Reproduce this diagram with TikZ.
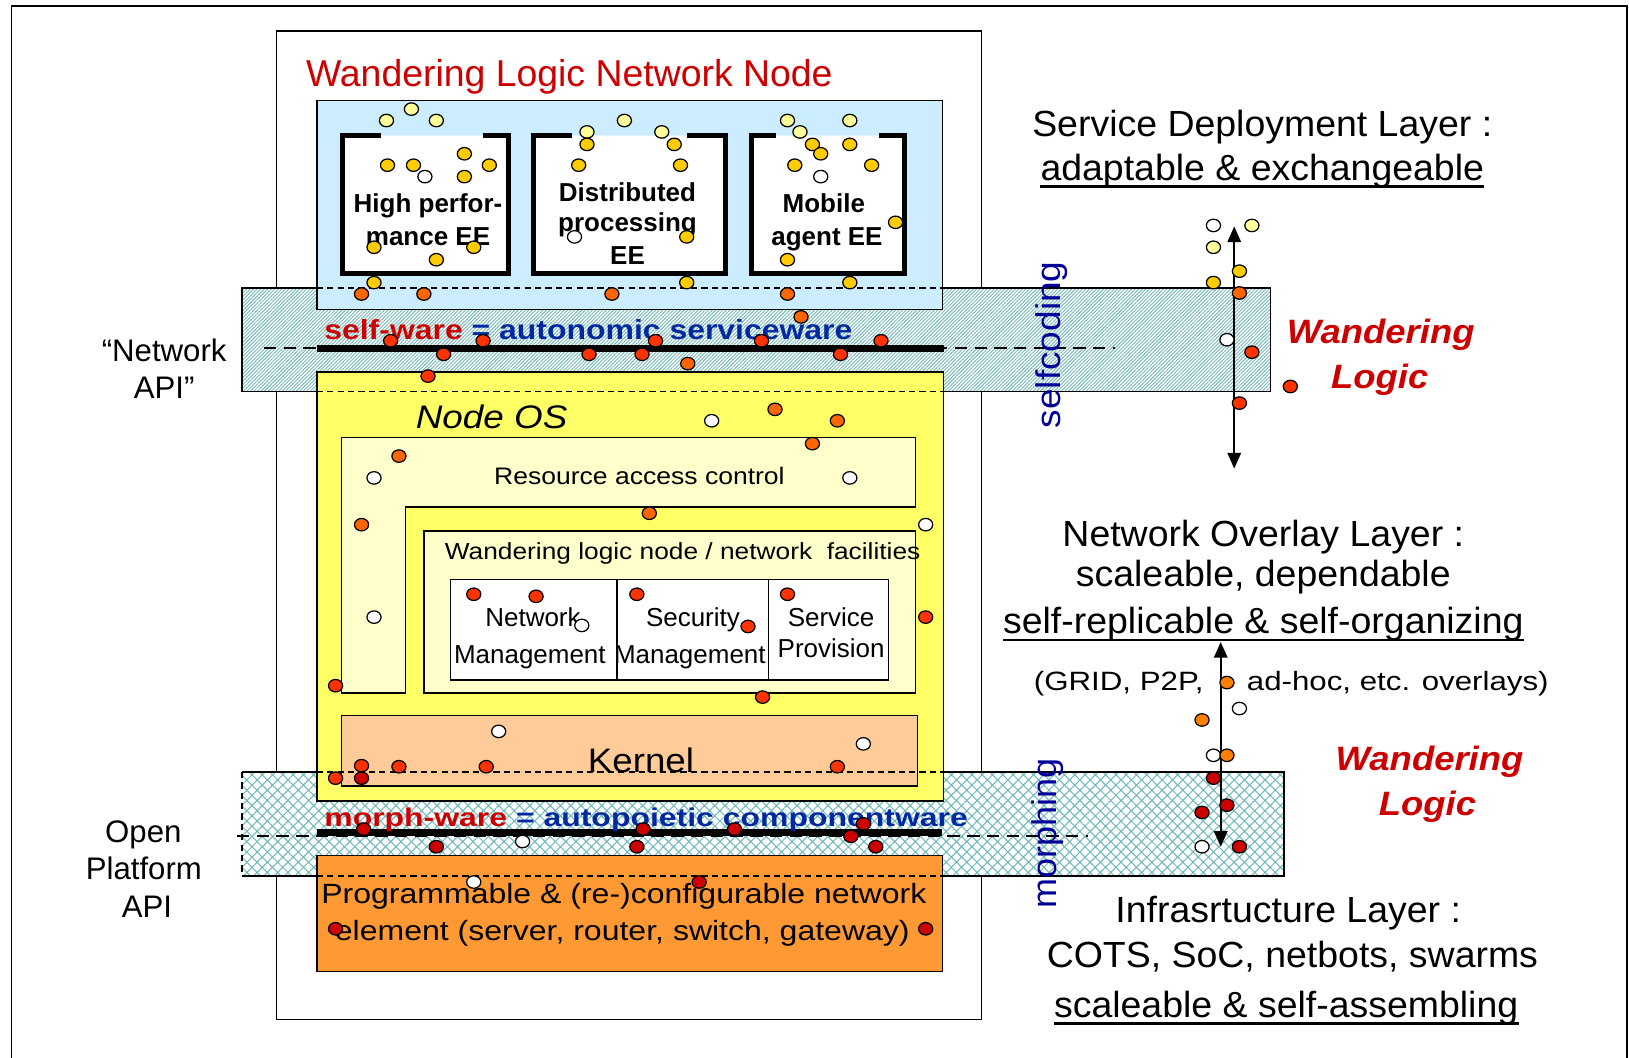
\documentclass[tikz,border=0pt]{standalone}
\usepackage{fontspec}
\usepackage{graphicx}
\setmainfont{Liberation Sans}
\usetikzlibrary{patterns.meta,arrows.meta}
\definecolor{wred}{RGB}{204,0,0}
\definecolor{wblue}{RGB}{0,40,160}
\definecolor{navy}{RGB}{0,0,153}
\definecolor{lblue}{RGB}{204,236,255}
\definecolor{yel}{RGB}{255,255,102}
\definecolor{lyel}{RGB}{255,255,204}
\definecolor{peach}{RGB}{255,204,153}
\definecolor{orng}{RGB}{255,153,51}
\definecolor{hatchc}{RGB}{120,185,185}
\definecolor{hatchd}{RGB}{110,185,185}
\definecolor{pyel}{RGB}{255,255,153}
\definecolor{gold}{RGB}{255,204,0}
\definecolor{dor}{RGB}{255,102,0}
\definecolor{dro}{RGB}{255,51,0}
\definecolor{ddr}{RGB}{204,0,0}
\definecolor{dorb}{RGB}{255,128,0}
\newcommand{\fz}[1]{\fontsize{#1}{#1}\selectfont}
\newcommand{\sx}[2]{\scalebox{#1}[1]{#2}}
\tikzset{
  tx/.style={inner sep=0pt, anchor=base},
  txl/.style={inner sep=0pt, anchor=base west},
  boxline/.style={line width=1.3pt},
  dsh/.style={line width=1.5pt, dash pattern=on 6pt off 4pt},
  ldsh/.style={line width=1.5pt, dash pattern=on 12pt off 7pt},
  cup/.style={line width=5pt, fill=white, line join=miter},
  bar/.style={line width=7pt},
  dblarrow/.style={line width=1.5pt, {Triangle[length=15pt,width=13pt]}-{Triangle[length=15pt,width=13pt]}},
  dotst/.style={line width=1.2pt, draw=black},
  uline/.style={line width=2.5pt}
}
\begin{document}
\begin{tikzpicture}[x=1pt,y=-1pt]
\useasboundingbox (0,0) rectangle (1568,1018);
% outer frame (open at the bottom)
\draw[line width=1.6pt] (11,1018) -- (11,6) -- (1566,6) -- (1566,1018);
% main node box
\draw[boxline, fill=white] (266,30) rectangle (945,981);
% self-ware band
\fill[white] (233,277) rectangle (1223,377);
\fill[pattern={Lines[angle=45,distance=2.4pt,line width=0.9pt]}, pattern color=hatchc] (233,277) rectangle (1223,377);
\draw[line width=1.5pt] (233,277) rectangle (1223,377);
% morph-ware band
\fill[white] (233,743) rectangle (1236,843);
\fill[pattern={Hatch[angle=45,distance=7pt,line width=1pt]}, pattern color=hatchd] (233,743) rectangle (1236,843);
\draw[line width=1.5pt] (233,743) -- (1236,743) -- (1236,843) -- (233,843);
\draw[dsh] (233,743) -- (233,843);
% blue EE box
\draw[boxline, fill=lblue] (305,97) rectangle (907,298);
\draw[dsh] (305,277) -- (907,277);
% cups
\draw[cup] (367,130.5) -- (329.5,130.5) -- (329.5,263.5) -- (489.5,263.5) -- (489.5,130.5) -- (465,130.5);
\draw[cup] (551,130.5) -- (513.5,130.5) -- (513.5,263.5) -- (698.5,263.5) -- (698.5,130.5) -- (661,130.5);
\draw[cup] (747,130.5) -- (723.5,130.5) -- (723.5,263.5) -- (870.5,263.5) -- (870.5,130.5) -- (846,130.5);
% Node OS box
\draw[boxline, fill=yel] (305,358) rectangle (908,771);
\draw[dsh] (305,377) -- (908,377);
\draw[boxline, fill=lyel] (329,421) -- (881,421) -- (881,488) -- (390,488) -- (390,667) -- (329,667) -- cycle;
\draw[boxline, fill=lyel] (408,511) rectangle (881,667);
\draw[boxline, fill=white] (433.5,557.5) rectangle (855,654.5);
\draw[boxline] (594,557.5) -- (594,654.5) (740,557.5) -- (740,654.5);
\draw[boxline, fill=peach] (329,689) rectangle (883,756.5);
\draw[dsh] (305,743) -- (908,743);
% platform box
\draw[boxline, fill=orng] (305,823.5) rectangle (907,935);
\draw[dsh] (305,843) -- (907,843);
% API lines
\draw[ldsh] (254,335) -- (1073,335);
\draw[bar] (305,335.5) -- (909,335.5);
\draw[ldsh] (228,804.7) -- (1047,804.7);
\draw[bar] (305,801.5) -- (907,801.5);

% texts
\node[tx, text=wred] (title) at (548,83) {\fz{36}Wandering Logic Network Node};
\node[tx] (hp1) at (412,205) {\fz{25}\bfseries High perfor-};
\node[tx] (hp2) at (412,236) {\fz{25}\bfseries mance EE};
\node[tx] (dp1) at (604,194) {\fz{25}\bfseries Distributed};
\node[tx] (dp2) at (604,223) {\fz{25}\bfseries processing};
\node[tx] (dp3) at (604,255) {\fz{25}\bfseries EE};
\node[tx] (ma1) at (793,205) {\fz{25}\bfseries Mobile};
\node[tx] (ma2) at (796,236) {\fz{25}\bfseries agent EE};
\node[txl] (selfware) at (312,327) {\fz{26.5}\bfseries\sx{1.16}{\textcolor{wred}{self-ware} \textcolor{wblue}{= autonomic serviceware}}};
\node[txl] (morphware) at (312,796) {\fz{24.6}\bfseries\sx{1.25}{\textcolor{wred}{morph-ware} \textcolor{wblue}{= autopoietic componentware}}};
\node[tx] (napi1) at (158,348) {\fz{30}“Network};
\node[tx] (napi2) at (158,384) {\fz{30}API”};
\node[tx] (opa1) at (138,811) {\fz{30}Open};
\node[tx] (opa2) at (138.5,847) {\fz{30}Platform};
\node[tx] (opa3) at (141.5,883) {\fz{30}API};
\node[txl] (nodeos) at (400,412) {\fz{31.4}\itshape\sx{1.13}{Node OS}};
\node[tx] (rac) at (615.5,466) {\fz{23}\sx{1.11}{Resource access control}};
\node[txl] (wlf) at (428,539) {\fz{22.4}\sx{1.13}{Wandering logic node / network\ \ facilities}};
\node[tx] (nm1) at (513,603) {\fz{25}Network};
\node[tx] (nm2) at (510,638.5) {\fz{25}Management};
\node[tx] (sm1) at (667,603) {\fz{25}Security};
\node[tx] (sm2) at (664,638.5) {\fz{25}Management};
\node[tx] (sp1) at (800,603) {\fz{25}Service};
\node[tx] (sp2) at (800,633) {\fz{25}Provision};
\node[tx] (kern) at (617,744) {\fz{32.7}\sx{1.08}{Kernel}};
\node[tx] (pr1) at (600.5,869.5) {\fz{26.8}\sx{1.15}{Programmable \& (re-)configurable network}};
\node[tx] (pr2) at (599,905) {\fz{26.8}\sx{1.15}{element (server, router, switch, gateway)}};
\node[inner sep=0pt, rotate=90, text=navy] (selfc) at (1012,332) {\fz{33}\sx{1.08}{selfcoding}};
\node[inner sep=0pt, rotate=90, text=navy] (morphc) at (1008.5,802) {\fz{33}\sx{1.05}{morphing}};
% right side
\node[tx] (sdl1) at (1215,131.5) {\fz{35}\sx{1.03}{Service Deployment Layer :}};
\node[tx] (sdl2) at (1215,173.3) {\fz{35}\sx{1.03}{adaptable \& exchangeable}};
\draw[uline] ([yshift=-6.4pt]sdl2.base west) -- ([yshift=-6.4pt]sdl2.base east);
\node[tx, text=wred] (wl1a) at (1329,330.5) {\fz{32.5}\bfseries\itshape\sx{1.08}{Wandering}};
\node[tx, text=wred] (wl1b) at (1328,373.8) {\fz{32.5}\bfseries\itshape\sx{1.08}{Logic}};
\node[tx] (nol1) at (1216,525.6) {\fz{35}\sx{1.03}{Network Overlay Layer :}};
\node[tx] (nol2) at (1216,565) {\fz{35}\sx{1.03}{scaleable, dependable}};
\node[tx] (nol3) at (1216,610) {\fz{35}\sx{1.03}{self-replicable \& self-organizing}};
\draw[uline] ([yshift=-6pt]nol3.base west) -- ([yshift=-6pt]nol3.base east);
\node[txl] (grid1) at (995,665) {\fz{25.5}\sx{1.18}{(GRID, P2P,}};
\node[txl] (grid2) at (1200,665) {\fz{25.5}\sx{1.18}{ad-hoc, etc. overlays)}};
\node[tx, text=wred] (wl2a) at (1376,742) {\fz{32.5}\bfseries\itshape\sx{1.08}{Wandering}};
\node[tx, text=wred] (wl2b) at (1374,785) {\fz{32.5}\bfseries\itshape\sx{1.08}{Logic}};
\node[tx] (inf1) at (1240,888.3) {\fz{35}\sx{1.03}{Infrasrtucture Layer :}};
\node[tx] (inf2) at (1244,931.3) {\fz{35}\sx{1.03}{COTS, SoC, netbots, swarms}};
\node[tx] (inf3) at (1238,979.4) {\fz{35}\sx{1.03}{scaleable \& self-assembling}};
\draw[uline] ([yshift=-6pt]inf3.base west) -- ([yshift=-6pt]inf3.base east);
% arrows
\coordinate (a1top) at (1188,218);
\coordinate (a1bot) at (1188,451);
\coordinate (a2top) at (1175,618);
\coordinate (a2bot) at (1175,815);
\draw[dblarrow] (a1top) -- (a1bot);
\draw[dblarrow] (a2top) -- (a2bot);
% dots
\foreach \x/\y in {372/116,396/105,420/116,565/127,601/116,637/127,758/116,770/127,818/116,1205/217,1168/238}
  \draw[dotst, fill=pyel] (\x,\y) ellipse [x radius=6.8pt, y radius=6pt];
\foreach \x/\y in {373/159,398/159,447/148,471/159,447/170,360/238,456/238,420/250,360/272,565/139,649/139,557/159,655/159,661/228,661/272,782/139,790/148,818/139,765/159,839/159,862/214,758/250,818/272,1193/261,1168/272}
  \draw[dotst, fill=gold] (\x,\y) ellipse [x radius=6.8pt, y radius=6pt];
\foreach \x/\y in {409/170,553/228,790/170,1168/217,1181/327,685/405,360/460,818/460,891/505,360/594,560/602,480/704,831/716,503/810,456/849,1193/682,1168/727,1157/815}
  \draw[dotst, fill=white] (\x,\y) ellipse [x radius=6.8pt, y radius=6pt];
\foreach \x/\y in {348/283,408/283,589/283,758/283,771/305,662/350,746/394,806/405,782/427,384/439,625/494,348/505,1193/282}
  \draw[dotst, fill=dor] (\x,\y) ellipse [x radius=6.8pt, y radius=6pt];
\foreach \x/\y in {376/328,465/328,427/341,567/341,618/341,631/328,733/328,809/341,848/328,412/362,456/572,516/574,613/572,720/603,758/572,891/594,323/660,734/671,348/737,384/738,468/738,806/738,323/749,1205/339,1242/372,1193/388}
  \draw[dotst, fill=dro] (\x,\y) ellipse [x radius=6.8pt, y radius=6pt];
\foreach \x/\y in {348/749,350/798,420/815,619/798,613/815,707/798,831/793,819/805,843/815,673/849,323/894,891/894,1168/749,1181/775,1157/782,1193/815}
  \draw[dotst, fill=ddr] (\x,\y) ellipse [x radius=6.8pt, y radius=6pt];
\foreach \x/\y in {1181/657,1157/693,1181/727}
  \draw[dotst, fill=dorb] (\x,\y) ellipse [x radius=6.8pt, y radius=6pt];
\end{tikzpicture}
\end{document}
